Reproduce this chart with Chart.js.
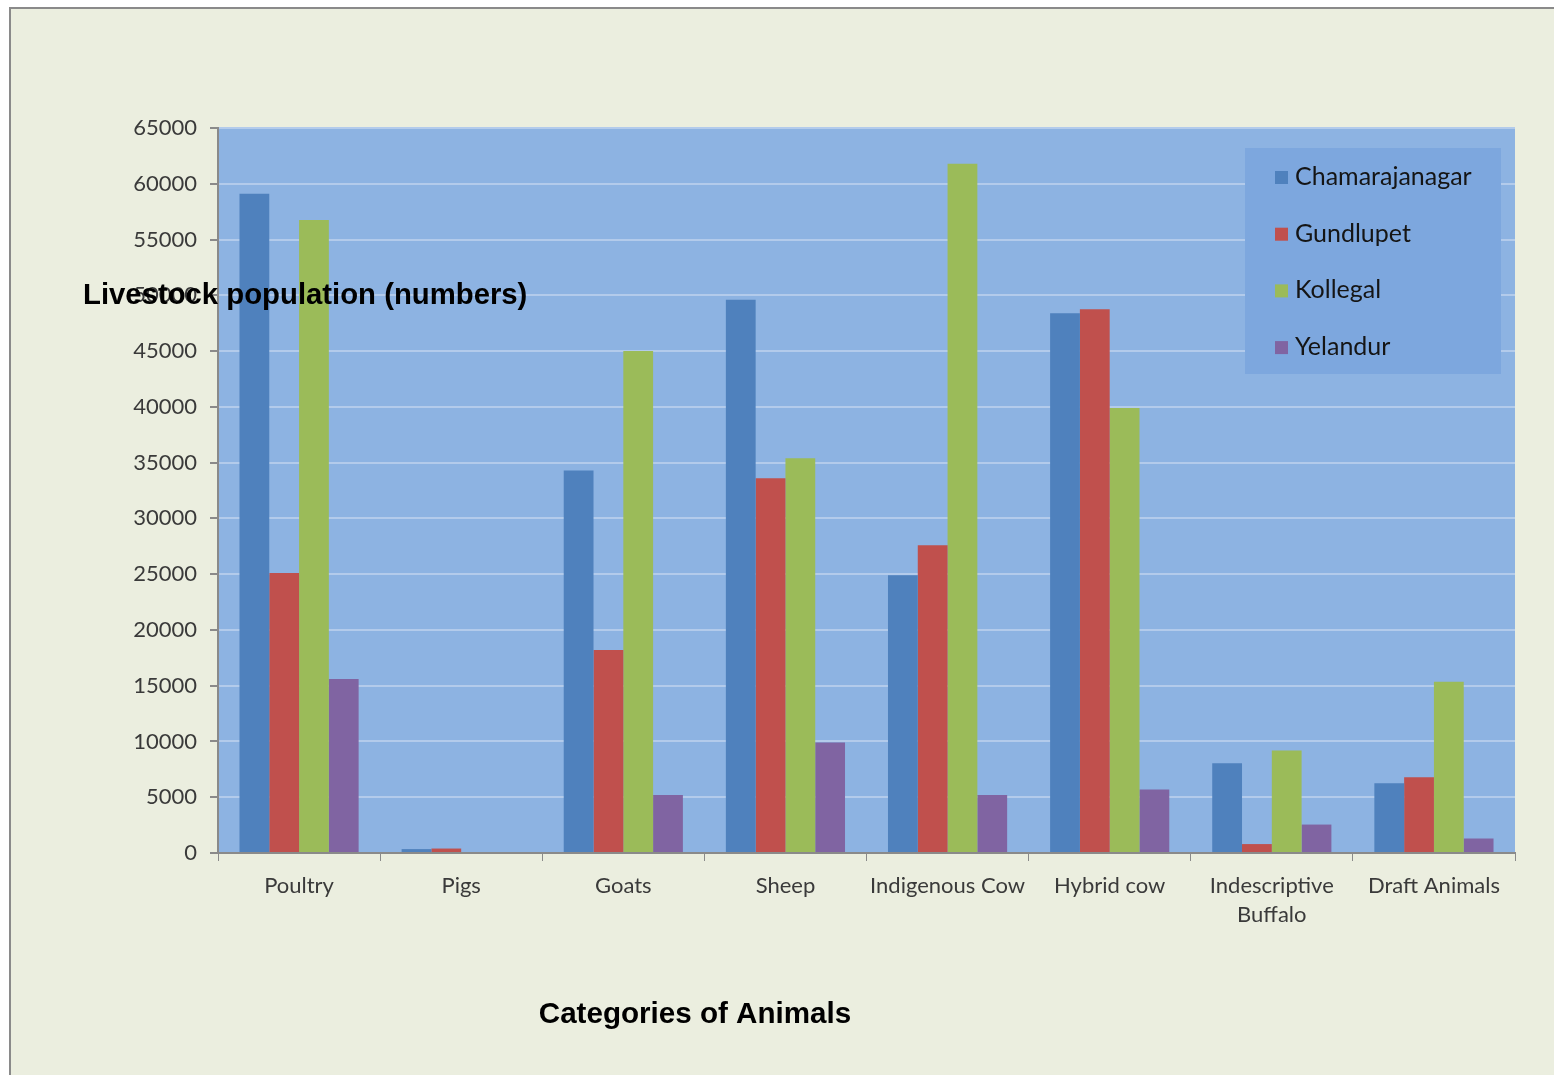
<!DOCTYPE html>
<html><head><meta charset="utf-8">
<script src="https://cdn.jsdelivr.net/npm/chart.js@4/dist/chart.umd.min.js"></script>
<style>
html,body{margin:0;padding:0;background:#ffffff;overflow:hidden;}
#frame{position:absolute;left:9px;top:7px;width:1600px;height:1100px;border:2px solid #8a8a8a;background:#EBEEDF;}
#wrap{position:absolute;left:0;top:0;width:1554px;height:1075px;}
</style></head>
<body>
<div id="frame"></div>
<div id="wrap"><canvas id="c" width="1554" height="1075"></canvas></div>
<script>
const categories = ['Poultry','Pigs','Goats','Sheep','Indigenous Cow','Hybrid cow',['Indescriptive','Buffalo'],'Draft Animals'];
const seriesNames = ['Chamarajanagar','Gundlupet','Kollegal','Yelandur'];
const chamarajanagar = [59100, 350, 34300, 49600, 24900, 48400, 8050, 6250];
const gundlupet      = [25100, 400, 18200, 33600, 27600, 48750, 800, 6800];
const kollegal       = [56750, 0, 45000, 35400, 61800, 39900, 9200, 15350];
const yelandur       = [15600, 0, 5200, 9900, 5200, 5700, 2550, 1300];
const colors = ['#4F81BD','#C0504D','#9BBB59','#8064A2'];
const yTitle = 'Livestock population (numbers)';
const xTitle = 'Categories of Animals';

const bgPlugin = {
  id:'bg',
  beforeDraw(chart){
    const {ctx, chartArea:a} = chart;
    ctx.save();
    ctx.fillStyle = '#8DB3E2';
    ctx.fillRect(a.left, a.top, a.right-a.left, a.bottom-a.top);
    ctx.restore();
  },
  afterDraw(chart){
    const {ctx, chartArea:a} = chart;
    ctx.save();
    // legend box
    const lx = a.right - 270, ly = a.top + 20, lw = 256, lh = 226;
    ctx.fillStyle = '#7DA7DE';
    ctx.fillRect(lx, ly, lw, lh);
    ctx.font = '25px Lato, "Open Sans", sans-serif';
    ctx.textBaseline = 'middle';
    chart.data.datasets.forEach((ds,i)=>{
      const cy = ly + 29 + i*56.7;
      ctx.fillStyle = ds.backgroundColor;
      ctx.fillRect(lx+30, cy-6, 13, 13);
      ctx.fillStyle = '#151515';
      ctx.fillText(ds.label, lx+50, cy);
    });
    // axis titles
    ctx.fillStyle = '#000';
    ctx.font = 'bold 29.3px "Liberation Sans", Arial, sans-serif';
    ctx.textAlign = 'left';
    ctx.textBaseline = 'middle';
    ctx.fillText(yTitle, 83, chart.scales.y.getPixelForValue(50000) + 1);
    ctx.font = 'bold 29.6px "Liberation Sans", Arial, sans-serif';
    ctx.textAlign = 'center';
    ctx.fillText(xTitle, 695, 1015);
    ctx.restore();
  }
};

new Chart(document.getElementById('c'), {
  type:'bar',
  data:{
    labels:categories,
    datasets:[
      {label:seriesNames[0], data:chamarajanagar, backgroundColor:colors[0]},
      {label:seriesNames[1], data:gundlupet, backgroundColor:colors[1]},
      {label:seriesNames[2], data:kollegal, backgroundColor:colors[2]},
      {label:seriesNames[3], data:yelandur, backgroundColor:colors[3]}
    ]
  },
  options:{
    responsive:false,
    animation:false,
    layout:{padding:{left:0, top:128, right:39, bottom:0}},
    datasets:{bar:{barPercentage:1, categoryPercentage:0.735}},
    plugins:{legend:{display:false}, tooltip:{enabled:false}},
    scales:{
      x:{
        grid:{offset:true, drawOnChartArea:false, drawTicks:true, tickLength:8, tickColor:'#8a8a8a'},
        border:{color:'#8a8a8a', width:2},
        ticks:{color:'#3a3a3a', font:{family:'Lato, "Open Sans", sans-serif', size:22, lineHeight:1.32}, padding:10, maxRotation:0, autoSkip:false},
        afterFit(s){ s.height = 222; }
      },
      y:{
        min:0, max:65000,
        grid:{color:'#B3CBEB', lineWidth:2, tickLength:8, tickColor:'#8a8a8a'},
        border:{color:'#8a8a8a', width:2},
        ticks:{stepSize:5000, color:'#3a3a3a', font:{family:'Lato, "Open Sans", sans-serif', size:22}, padding:13, callback:(v)=>String(v)},
        afterFit(s){ s.width = 218; }
      }
    }
  },
  plugins:[bgPlugin]
});
</script>
</body></html>
